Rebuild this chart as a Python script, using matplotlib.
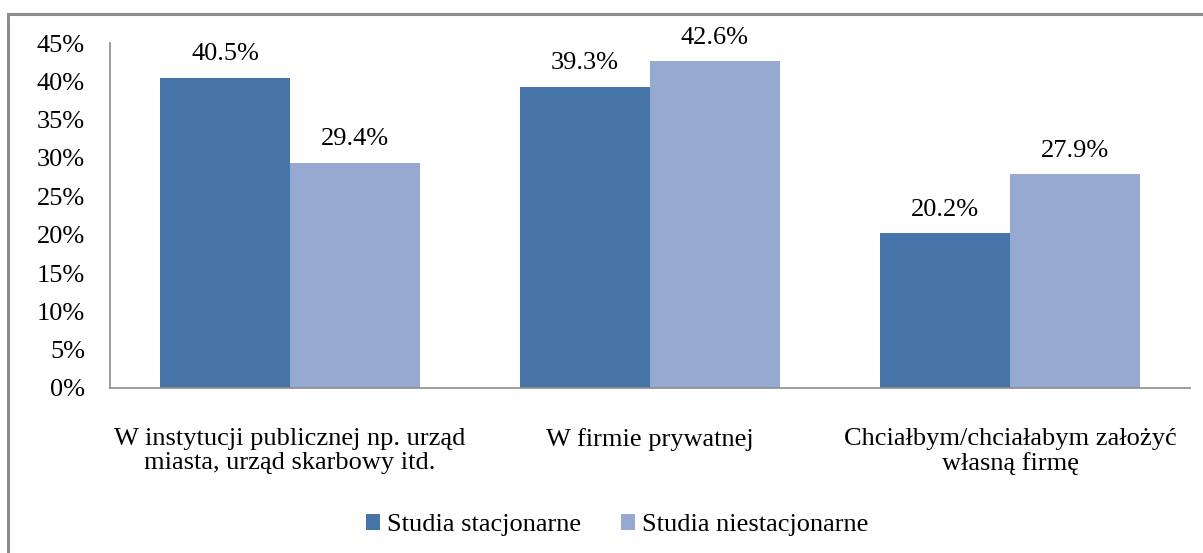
import matplotlib.pyplot as plt
import numpy as np
from matplotlib.patches import Rectangle

categories = ['W instytucji publicznej np. urząd\nmiasta, urząd skarbowy itd.',
              'W firmie prywatnej',
              'Chciałbym/chciałabym założyć\nwłasną firmę']
stacjonarne = [40.5, 39.3, 20.2]
niestacjonarne = [29.4, 42.6, 27.9]
series_names = ['Studia stacjonarne', 'Studia niestacjonarne']
colors = ['#4674A8', '#95A9D1']

plt.rcParams['font.family'] = ['Liberation Serif', 'DejaVu Serif']
plt.rcParams['font.size'] = 19

fig = plt.figure(figsize=(12.03, 5.53), dpi=100)
W, H = 1203, 553

# gray frame round the chart
fig.patches.append(Rectangle((8 / W, -0.05), 1.2, (553 - 14) / H + 0.05,
                             transform=fig.transFigure, fill=False,
                             edgecolor='#8c8c8c', linewidth=2.2))

ax = fig.add_axes([110 / W, 1 - 388 / H, (1190 - 110) / W, (388 - 43) / H])

x = np.arange(len(categories))
w = 0.361
b1 = ax.bar(x - w / 2, stacjonarne, w, color=colors[0], label=series_names[0])
b2 = ax.bar(x + w / 2, niestacjonarne, w, color=colors[1], label=series_names[1])

for bars, vals in ((b1, stacjonarne), (b2, niestacjonarne)):
    for bar, v in zip(bars, vals):
        ax.text(bar.get_x() + bar.get_width() / 2, v + 1.6, f'{v:.1f}%',
                ha='center', va='bottom', fontsize=19)

ax.set_xlim(-0.5, 2.5)
ax.set_ylim(0, 45)
ax.set_yticks(np.arange(0, 46, 5))
ax.set_yticklabels([f'{t}%' for t in range(0, 46, 5)])
ax.set_xticks(x)
ax.set_xticklabels(categories, linespacing=1.1)
ax.tick_params(axis='y', length=0, pad=18)
ax.tick_params(axis='x', length=0, pad=29)

for s in ('top', 'right'):
    ax.spines[s].set_visible(False)
for s in ('left', 'bottom'):
    ax.spines[s].set_color('#8c8c8c')
    ax.spines[s].set_linewidth(1.2)

fig.legend(handles=[b1, b2], loc='center', bbox_to_anchor=(617 / W, 1 - 525 / H),
           ncol=2, frameon=False, handlelength=0.55, handleheight=0.55,
           handletextpad=0.25, columnspacing=1.5, fontsize=19)

fig.savefig('out.png', dpi=100)
